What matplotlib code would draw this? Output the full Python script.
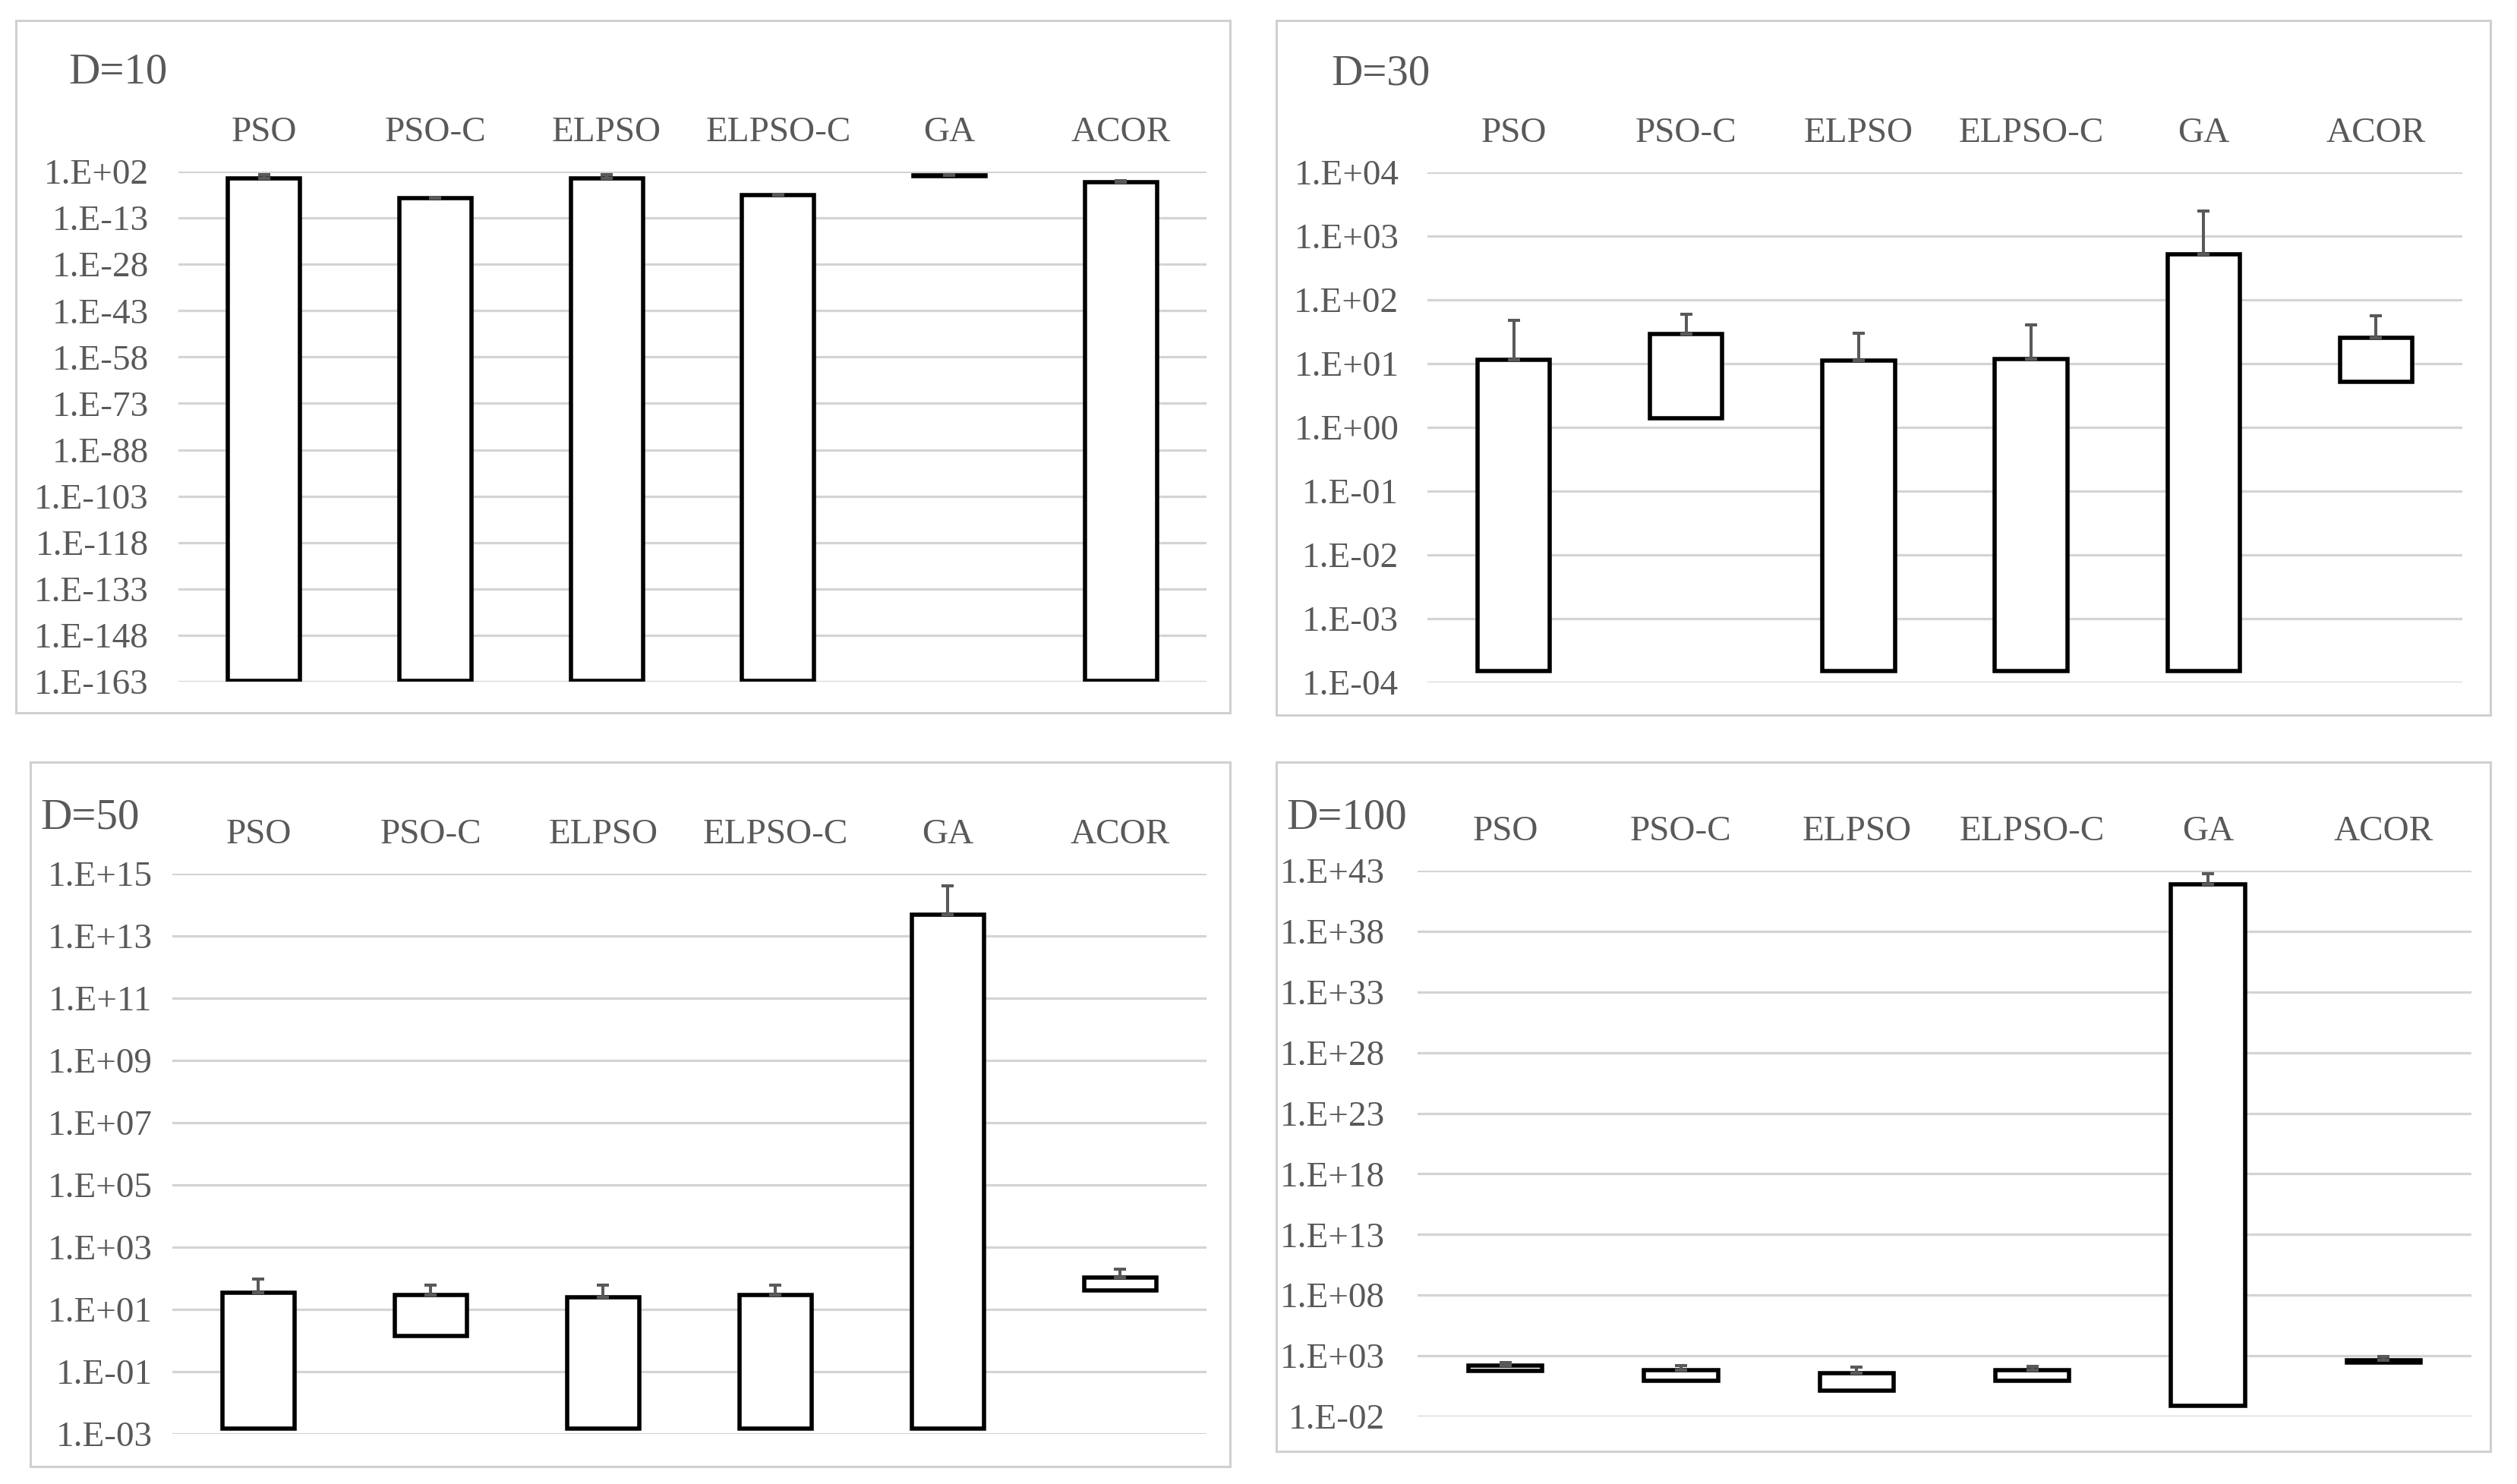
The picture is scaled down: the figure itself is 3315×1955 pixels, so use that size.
import matplotlib
matplotlib.use('Agg')
import matplotlib.pyplot as plt
from matplotlib.patches import Rectangle
from matplotlib.ticker import NullLocator

plt.rcParams['font.family'] = 'Liberation Serif'

algos = ['PSO', 'PSO-C', 'ELPSO', 'ELPSO-C', 'GA', 'ACOR']

# D=10 : top of bar, bottom of bar, upper end of error bar
top10 = [0.6, 2e-7, 0.6, 2e-6, 4.5, 0.04]
bot10 = [1.5e-163, 1.5e-163, 1.5e-163, 1.5e-163, 3, 1.5e-163]
err10 = [10, 5e-7, 10, 5e-6, 10, 0.1]
exp10 = list(range(2, -164, -15))

# D=30
top30 = [11.5, 29.5, 11.2, 11.8, 525, 25.7]
bot30 = [1.5e-4, 1.4, 1.5e-4, 1.5e-4, 1.5e-4, 5.2]
err30 = [48, 59, 29.6, 40, 2500, 56]
exp30 = list(range(4, -5, -1))

# D=50
top50 = [35, 29, 24.5, 29, 4.7e13, 107]
bot50 = [1.5e-3, 1.4, 1.5e-3, 1.5e-3, 1.5e-3, 41]
err50 = [95, 60, 60, 60, 4e14, 195]
exp50 = list(range(15, -4, -2))

# D=100
top100 = [158, 63, 35, 63, 8e41, 420]
bot100 = [57, 9, 1.3, 9, 0.07, 280]
err100 = [295, 150, 112, 130, 6e42, 850]
exp100 = list(range(43, -3, -5))

W, H = 3316, 1955
grey_txt = '#595959'

fig = plt.figure(figsize=(W / 100, H / 100), dpi=100)

# (titolo, dati, riquadro del grafico in px, cornice in px, posizione titolo, pad etichette y)
pannelli = [
    ('D=10', top10, bot10, err10, exp10, (235, 226, 1589, 898), (21, 27, 1620, 939), (90, 110), 28),
    ('D=30', top30, bot30, err30, exp30, (1880, 227, 3243, 899), (1681, 27, 3280, 942), (1753, 112), 27),
    ('D=50', top50, bot50, err50, exp50, (227, 1151, 1589, 1889), (40, 1004, 1620, 1932), (53, 1091), 19),
    ('D=100', top100, bot100, err100, exp100, (1867, 1147, 3255, 1866), (1681, 1004, 3280, 1912), (1694, 1091), 31),
]

x = list(range(len(algos)))

for titolo, top, bot, err, exps, box, frame, tpos, ypad in pannelli:
    x0, y0, x1, y1 = box
    ax = fig.add_axes([x0 / W, 1 - y1 / H, (x1 - x0) / W, (y1 - y0) / H])
    ax.set_yscale('log')

    altezze = [t - b for t, b in zip(top, bot)]
    ax.bar(x, altezze, bottom=bot, width=0.42, color='white',
           edgecolor='black', linewidth=4, zorder=2)
    ax.errorbar(x, top, yerr=[[0] * len(top), [e - t for e, t in zip(err, top)]],
                fmt='none', ecolor=grey_txt, elinewidth=2.9, capsize=6,
                capthick=2.9, zorder=3)

    ax.set_ylim(10.0 ** exps[-1], 10.0 ** exps[0])
    ax.set_yticks([10.0 ** e for e in exps], [f'1.E{e:+03d}' for e in exps])
    ax.yaxis.set_minor_locator(NullLocator())
    ax.tick_params(axis='y', length=0, pad=ypad, labelsize=34, labelcolor=grey_txt)

    ax.xaxis.tick_top()
    ax.set_xticks(x, algos, va='baseline')
    ax.set_xlim(-0.5, 5.5)
    ax.tick_params(axis='x', length=0, pad=29, labelsize=34, labelcolor=grey_txt)

    ax.grid(axis='y', color='#d4d4d4', linewidth=2.3)
    ax.set_axisbelow(True)
    for s in ax.spines.values():
        s.set_visible(False)

    # cornice grigia intorno al pannello
    fx0, fy0, fx1, fy1 = frame
    fig.add_artist(Rectangle((fx0 / W, 1 - fy1 / H), (fx1 - fx0) / W, (fy1 - fy0) / H,
                             transform=fig.transFigure, fill=False,
                             edgecolor='#d0d0d0', linewidth=2.2))

    fig.text(tpos[0] / W, 1 - tpos[1] / H, titolo, fontsize=41, color=grey_txt,
             ha='left', va='baseline')

fig.savefig('out.png', dpi=100)
